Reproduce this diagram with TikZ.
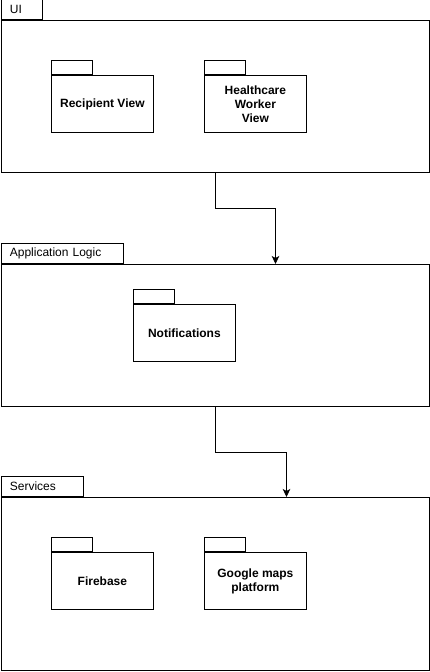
\documentclass[tikz,border=0pt]{standalone}
\usepackage{fontspec}
\setmainfont{Liberation Sans}
\usepackage{tikz}
\usetikzlibrary{arrows.meta, positioning}

\begin{document}
\begin{tikzpicture}[x=1pt, y=-1pt,
    layer/.style={draw, line width=0.8pt, minimum width=428pt, minimum height=#1, inner sep=0pt, anchor=north west},
    layertab/.style={draw, line width=0.8pt, minimum height=20pt, text width=#1, inner xsep=9pt, inner ysep=0pt, align=left, anchor=south west, font=\fontsize{12}{14}\selectfont},
    pkg/.style={draw, line width=0.8pt, minimum width=102pt, minimum height=57pt, inner sep=2pt, align=center, anchor=north west, font=\fontsize{12}{14}\selectfont\bfseries},
    pkgtab/.style={draw, line width=0.8pt, minimum width=41pt, minimum height=14pt, inner sep=0pt, anchor=south west},
    flow/.style={draw, line width=0.8pt, -{Stealth[length=8pt, width=7.5pt, inset=2pt]}},
    ]
    \useasboundingbox (0,0) rectangle (430,672);

    % UI layer (top)
    \node[layer=152pt] (ui) at (0.5,20) {};
    \node[layertab=23pt] (uiTab) at (ui.north west) {UI};
    \node[pkg] (recip) at (51,75) {Recipient View};
    \node[pkgtab] (recipTab) at (recip.north west) {};
    \node[pkg] (worker) at (204,75) {Healthcare\\Worker\\View};
    \node[pkgtab] (workerTab) at (worker.north west) {};

    % Application logic layer (middle)
    \node[layer=142pt] (logic) at (0.5,264) {};
    \node[layertab=104pt] (logicTab) at (logic.north west) {Application Logic};
    \node[pkg] (notif) at (133,304) {Notifications};
    \node[pkgtab] (notifTab) at (notif.north west) {};

    % Services layer (bottom)
    \node[layer=173pt] (serv) at (0.5,497) {};
    \node[layertab=64pt] (servTab) at (serv.north west) {Services};
    \node[pkg] (fire) at (51,552) {Firebase};
    \node[pkgtab] (fireTab) at (fire.north west) {};
    \node[pkg] (maps) at (204,552) {Google maps\\platform};
    \node[pkgtab] (mapsTab) at (maps.north west) {};

    % Arrows: UI -> logic, logic -> services
    \coordinate (logicIn) at ([xshift=275pt]logic.north west);
    \coordinate (servIn) at ([xshift=286pt]serv.north west);
    \draw[flow] (ui.south) -- ++(0,36) -| (logicIn);
    \draw[flow] (logic.south) -- ++(0,46) -| (servIn);
\end{tikzpicture}
\end{document}
